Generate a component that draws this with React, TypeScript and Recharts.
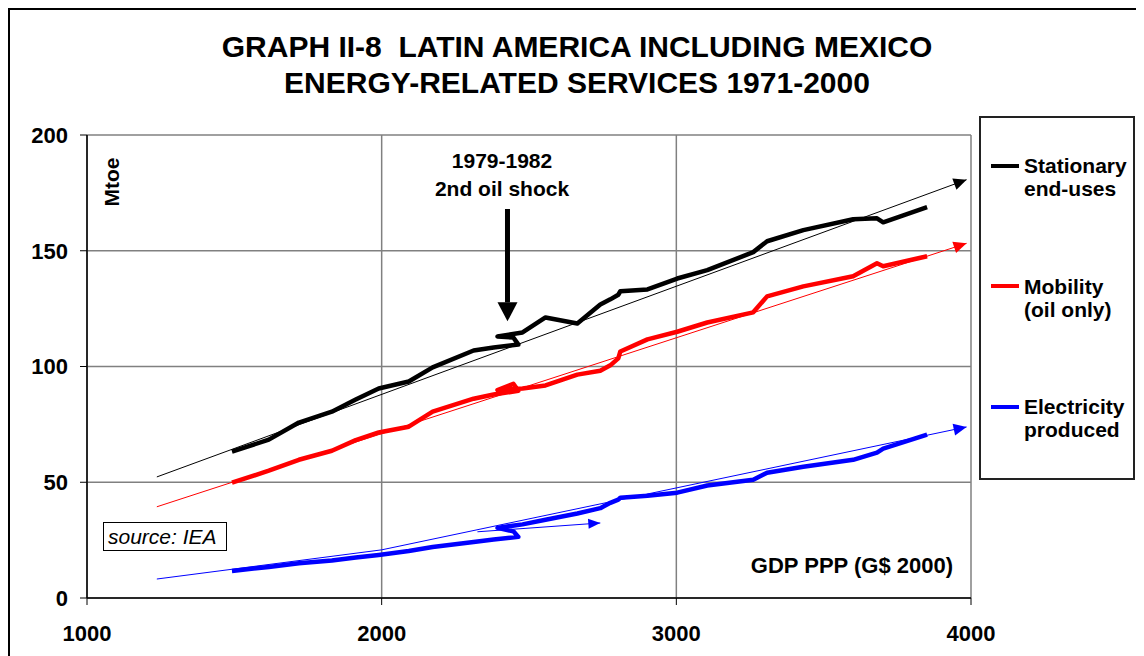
import React from 'react';
import { LineChart, Line, XAxis, YAxis, CartesianGrid } from 'recharts';

// GDP PPP (G$ 2000), one value per year 1971-2000
const gdp = [
  1492, 1617, 1719, 1831, 1912, 1990, 2092, 2173, 2312, 2380,
  2464, 2447, 2393, 2478, 2556, 2664, 2742, 2776, 2803, 2810,
  2902, 3003, 3105, 3261, 3308, 3431, 3600, 3681, 3702, 3851,
];

// Mtoe
const stationary = [
  63.2, 68.4, 75.8, 80.5, 85.7, 90.5, 93.5, 99.6, 106.9, 108.2,
  109.5, 112.5, 113.0, 114.7, 121.2, 118.6, 126.8, 129.0, 131.0, 132.5,
  133.3, 138.0, 141.6, 149.4, 154.1, 158.9, 163.6, 164.0, 162.3, 168.8,
];
const mobility = [
  49.8, 55.0, 59.7, 63.6, 68.2, 71.5, 74.0, 80.5, 86.1, 87.9,
  89.5, 92.5, 89.8, 90.5, 91.8, 96.5, 98.2, 100.5, 103.5, 106.5,
  111.7, 115.0, 119.0, 123.4, 130.3, 134.6, 139.0, 144.6, 143.3, 147.6,
];
const electricity = [
  11.7, 13.4, 15.0, 16.2, 17.5, 18.6, 20.3, 22.0, 24.2, 25.3,
  26.4, 28.8, 30.3, 31.8, 33.8, 36.5, 38.8, 41.1, 42.5, 43.3,
  44.2, 45.5, 48.6, 51.1, 54.1, 56.7, 59.7, 62.8, 64.5, 70.6,
];

// trend arrows
const trendGdp = [1237, 3985];
const stationaryTrend = [52.3, 180.7];
const mobilityTrend = [39.4, 153.2];
const electricityTrendGdp = [1237, 2000, 3985];
const electricityTrend = [8.2, 20.8, 73.9];
const shortArrowGdp = [2325, 2742];
const shortArrowMtoe = [28.6, 32.4];
const shockGdp = [2427, 2427];
const shockMtoe = [168, 127.7];

const xTicks = [1000, 2000, 3000, 4000];
const yTicks = [0, 50, 100, 150, 200];

const legendItems = [
  { color: '#000000', lines: ['Stationary', 'end-uses'] },
  { color: '#ff0000', lines: ['Mobility', '(oil only)'] },
  { color: '#0000ff', lines: ['Electricity', 'produced'] },
];

const FONT = 'Arial, "Liberation Sans", sans-serif';

const toPoints = (xs: number[], ys: number[]) => xs.map((x, i) => ({ x, y: ys[i] }));

// arrow head drawn at the last point of a line
const makeArrowHead = (len: number, half: number, ahead: boolean, last: number) => {
  let prev: { x: number; y: number } | null = null;
  return (p: any) => {
    const { cx, cy, index, points, stroke } = p;
    const key = `ah-${index}`;
    let from: { x: number; y: number } | null = null;
    if (points && points.length > 1 && index > 0) from = { x: points[index - 1].x, y: points[index - 1].y };
    else if (prev && index > 0) from = prev;
    prev = { x: cx, y: cy };
    if (index !== last || !from) return <g key={key} />;
    const a = Math.atan2(cy - from.y, cx - from.x);
    const ux = Math.cos(a);
    const uy = Math.sin(a);
    const tipX = ahead ? cx + ux * len : cx;
    const tipY = ahead ? cy + uy * len : cy;
    const bx = tipX - ux * len;
    const by = tipY - uy * len;
    const pts = [
      `${tipX},${tipY}`,
      `${bx - uy * half},${by + ux * half}`,
      `${bx + uy * half},${by - ux * half}`,
    ].join(' ');
    return <polygon key={key} points={pts} fill={stroke} stroke="none" />;
  };
};

const tickStyle = { fontSize: 22, fontWeight: 700, fill: '#000', fontFamily: FONT };

export default function App() {
  return (
    <div
      style={{
        position: 'relative',
        width: 1136,
        height: 648,
        boxSizing: 'border-box',
        borderLeft: '2px solid #000',
        borderTop: '2px solid #000',
        background: '#fff',
        fontFamily: FONT,
        color: '#000',
        overflow: 'hidden',
      }}
    >
      <LineChart width={1134} height={646} margin={{ top: 125, right: 173, bottom: 14, left: 17 }}>
        <CartesianGrid stroke="#808080" strokeWidth={1.5} />
        <XAxis
          type="number"
          dataKey="x"
          domain={[1000, 4000]}
          ticks={xTicks}
          height={44}
          tick={tickStyle}
          tickSize={7}
          tickMargin={20}
          axisLine={{ stroke: '#000', strokeWidth: 1.5 }}
          tickLine={{ stroke: '#000' }}
          allowDataOverflow
        />
        <YAxis
          type="number"
          domain={[0, 200]}
          ticks={yTicks}
          width={60}
          tick={tickStyle}
          tickSize={7}
          tickMargin={12}
          axisLine={{ stroke: '#000', strokeWidth: 1.5 }}
          tickLine={{ stroke: '#000' }}
        />
        <Line data={toPoints(trendGdp, stationaryTrend)} dataKey="y" stroke="#000" strokeWidth={1}
          dot={makeArrowHead(13, 6, false, 1)} activeDot={false} isAnimationActive={false} />
        <Line data={toPoints(trendGdp, mobilityTrend)} dataKey="y" stroke="#ff0000" strokeWidth={1}
          dot={makeArrowHead(13, 6, false, 1)} activeDot={false} isAnimationActive={false} />
        <Line data={toPoints(electricityTrendGdp, electricityTrend)} dataKey="y" stroke="#0000ff" strokeWidth={1}
          dot={makeArrowHead(13, 6, false, 2)} activeDot={false} isAnimationActive={false} />
        <Line data={toPoints(shortArrowGdp, shortArrowMtoe)} dataKey="y" stroke="#0000ff" strokeWidth={1}
          dot={makeArrowHead(12, 5, false, 1)} activeDot={false} isAnimationActive={false} />
        <Line data={toPoints(gdp, stationary)} dataKey="y" stroke="#000" strokeWidth={4.5}
          strokeLinejoin="round" dot={false} activeDot={false} isAnimationActive={false} />
        <Line data={toPoints(gdp, mobility)} dataKey="y" stroke="#ff0000" strokeWidth={4.5}
          strokeLinejoin="round" dot={false} activeDot={false} isAnimationActive={false} />
        <Line data={toPoints(gdp, electricity)} dataKey="y" stroke="#0000ff" strokeWidth={4.5}
          strokeLinejoin="round" dot={false} activeDot={false} isAnimationActive={false} />
        <Line data={toPoints(shockGdp, shockMtoe)} dataKey="y" stroke="#000" strokeWidth={5}
          dot={makeArrowHead(19, 10, true, 1)} activeDot={false} isAnimationActive={false} />
      </LineChart>

      {/* title */}
      <div style={{ position: 'absolute', left: 0, top: 19, width: 1134, textAlign: 'center', fontSize: 30, fontWeight: 700, lineHeight: '36px', whiteSpace: 'pre' }}>
        {'GRAPH II-8  LATIN AMERICA INCLUDING MEXICO'}
        <br />
        {'ENERGY-RELATED SERVICES 1971-2000'}
      </div>

      {/* oil shock note */}
      <div style={{ position: 'absolute', left: 392, top: 137, width: 200, textAlign: 'center', fontSize: 21, fontWeight: 700, lineHeight: '28px' }}>
        1979-1982
        <br />
        2nd oil shock
      </div>

      {/* axis titles */}
      <div style={{ position: 'absolute', left: 102, top: 172, transform: 'translate(-50%, -50%) rotate(-90deg)', fontSize: 21, fontWeight: 700, lineHeight: '24px' }}>
        Mtoe
      </div>
      <div style={{ position: 'absolute', right: 191, top: 544, fontSize: 22, fontWeight: 700, lineHeight: '24px', whiteSpace: 'nowrap' }}>
        GDP PPP (G$ 2000)
      </div>

      {/* source */}
      <div style={{ position: 'absolute', left: 93, top: 512, width: 124, height: 29, boxSizing: 'border-box', border: '1px solid #000', fontSize: 21, fontStyle: 'italic', lineHeight: '27px', paddingLeft: 4 }}>
        source: IEA
      </div>

      {/* legend */}
      <div style={{ position: 'absolute', left: 969, top: 106, width: 156, height: 364, boxSizing: 'border-box', border: '2px solid #222', background: '#fff' }}>
        {legendItems.map((item, i) => (
          <div key={item.lines[0]} style={{ position: 'absolute', left: 10, top: 36 + i * 120.5, fontSize: 21, fontWeight: 700, lineHeight: '23px' }}>
            <div style={{ position: 'absolute', left: 0, top: 9.5, width: 28, height: 4, background: item.color }} />
            <div style={{ marginLeft: 33, whiteSpace: 'nowrap' }}>
              {item.lines[0]}
              <br />
              {item.lines[1]}
            </div>
          </div>
        ))}
      </div>
    </div>
  );
}
